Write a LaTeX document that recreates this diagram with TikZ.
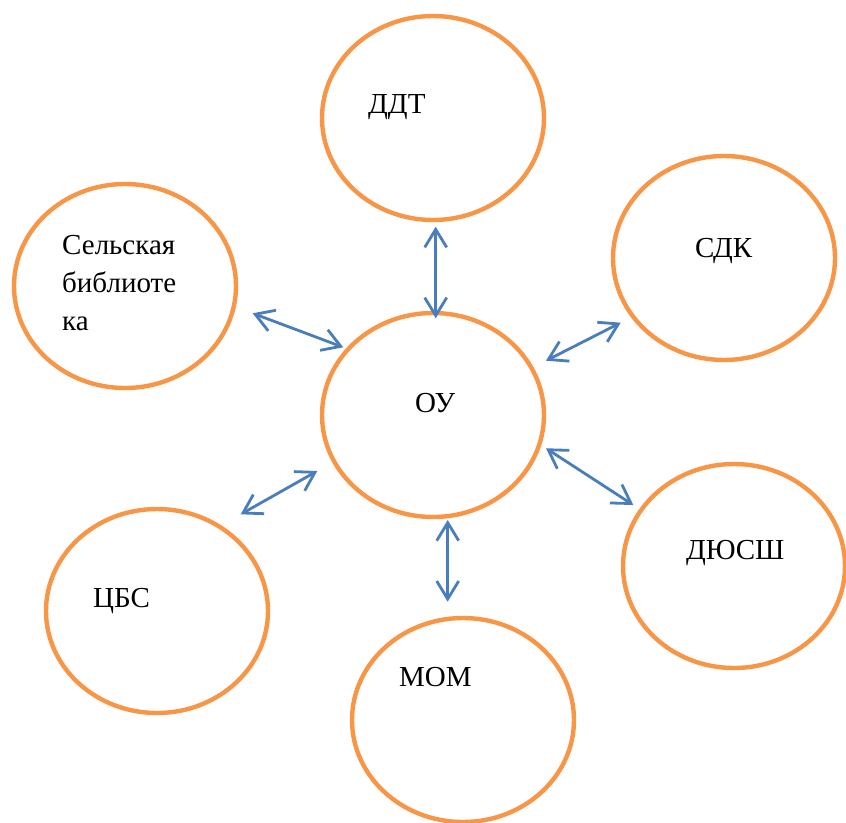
\documentclass[tikz,border=0pt]{standalone}
\usepackage{fontspec}
\setmainfont{Liberation Serif}
\usetikzlibrary{shapes.geometric,arrows.meta}
\definecolor{orgorange}{HTML}{F79646}
\definecolor{linkblue}{HTML}{4A7EBB}
\tikzset{
  org/.style={ellipse,draw=orgorange,line width=4.4pt,minimum width=222pt,
              minimum height=204pt,inner sep=0pt},
  orgname/.style={anchor=base west,inner sep=0pt,align=left,
              font=\fontsize{29}{38}\selectfont},
  link/.style={draw=linkblue,line width=2.8pt,
              {Straight Barb[length=18pt,width=22pt]}-{Straight Barb[length=18pt,width=22pt]}}
}
\begin{document}
\begin{tikzpicture}[x=1pt,y=-1pt]
\useasboundingbox (0,0) rectangle (846,822);
% partners round the school
\node[org] (ddt) at (433,118) {};
\node[org] (lib) at (125,286) {};
\node[org] (sdk) at (724,258) {};
\node[org] (ou) at (433,415) {};
\node[org] (cbs) at (157,611) {};
\node[org] (dyussh) at (734,566) {};
\node[org] (mom) at (463,720) {};
\node[orgname] (ddt text) at (368,113) {ДДТ};
\node[orgname] (lib text) at (62,330) {Сельская\\библиоте\\ка};
\node[orgname] (sdk text) at (695,257) {СДК};
\node[orgname] (ou text) at (415,412) {ОУ};
\node[orgname] (cbs text) at (93,607) {ЦБС};
\node[orgname] (dyussh text) at (686,559) {ДЮСШ};
\node[orgname] (mom text) at (399,686) {МОМ};
% arrow ends
\coordinate (ddt-a) at (435.7,226.7);
\coordinate (ou-ddt) at (435.7,318.3);
\coordinate (lib-a) at (252.7,313.3);
\coordinate (ou-lib) at (343.3,347.3);
\coordinate (sdk-a) at (620.7,322.7);
\coordinate (ou-sdk) at (546,360.7);
\coordinate (dyussh-a) at (633.3,505);
\coordinate (ou-dyussh) at (546,448.3);
\coordinate (cbs-a) at (240.7,514.3);
\coordinate (ou-cbs) at (317.3,471);
\coordinate (mom-a) at (447.7,601.7);
\coordinate (ou-mom) at (447.7,520);
\foreach \a/\b in {ddt-a/ou-ddt,lib-a/ou-lib,sdk-a/ou-sdk,
                   dyussh-a/ou-dyussh,cbs-a/ou-cbs,mom-a/ou-mom}
  \draw[link] (\a) -- (\b);
\end{tikzpicture}
\end{document}
